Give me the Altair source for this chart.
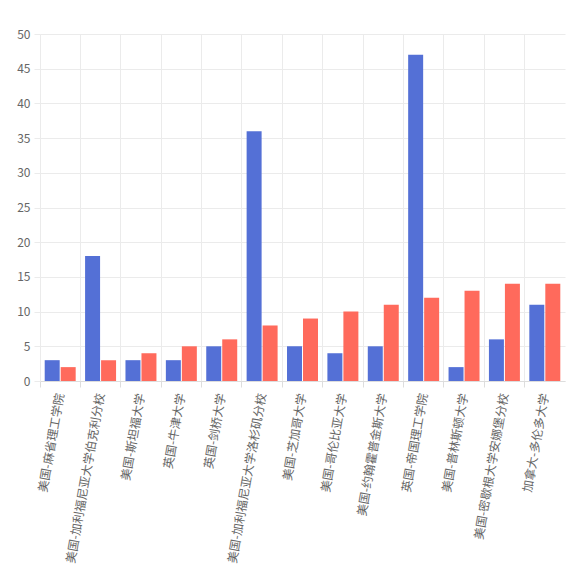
import altair as alt
import pandas as pd

categories = ["美国-麻省理工学院", "美国-加利福尼亚大学伯克利分校", "美国-斯坦福大学", "英国-牛津大学",
              "英国-剑桥大学", "美国-加利福尼亚大学洛杉矶分校", "美国-芝加哥大学", "美国-哥伦比亚大学",
              "美国-约翰霍普金斯大学", "英国-帝国理工学院", "美国-普林斯顿大学", "美国-密歇根大学安娜堡分校",
              "加拿大-多伦多大学"]
series_a = [3, 18, 3, 3, 5, 36, 5, 4, 5, 47, 2, 6, 11]
series_b = [2, 3, 4, 5, 6, 8, 9, 10, 11, 12, 13, 14, 14]
series_names = ["A", "B"]
colors = ["#5470d6", "#ff6a5c"]

rows = []
for c, a, b in zip(categories, series_a, series_b):
    rows.append({"cat": c, "series": series_names[0], "value": a})
    rows.append({"cat": c, "series": series_names[1], "value": b})
df = pd.DataFrame(rows)

font = "Noto Sans CJK SC"

chart = alt.Chart(df).mark_bar().encode(
    x=alt.X("cat:N", sort=categories, title=None,
            scale=alt.Scale(paddingInner=0, paddingOuter=0),
            axis=alt.Axis(labelAngle=-80, labelAlign="right", labelBaseline="middle",
                          bandPosition=0, grid=True, gridColor="#ebebeb",
                          domainColor="#dddddd", tickColor="#dddddd", tickSize=6,
                          labelColor="#666666", labelFontSize=12, labelFont=font,
                          labelPadding=6, labelLimit=300)),
    xOffset=alt.XOffset("series:N", scale=alt.Scale(paddingInner=0.0625, paddingOuter=0.294)),
    y=alt.Y("value:Q", title=None, scale=alt.Scale(domain=[0, 50]),
            axis=alt.Axis(values=list(range(0, 51, 5)), grid=True, gridColor="#ebebeb",
                          domain=False, tickColor="#ebebeb", tickSize=6,
                          labelColor="#666666", labelFontSize=12, labelFont=font,
                          labelPadding=4)),
    color=alt.Color("series:N", scale=alt.Scale(domain=series_names, range=colors), legend=None),
).properties(
    width=525, height=347,
    autosize=alt.AutoSizeParams(type="none"),
    padding={"left": 32, "top": 26, "right": 10, "bottom": 185},
).configure_view(stroke=None)

chart.save("out.html", embed_options={"renderer": "svg", "actions": False})
